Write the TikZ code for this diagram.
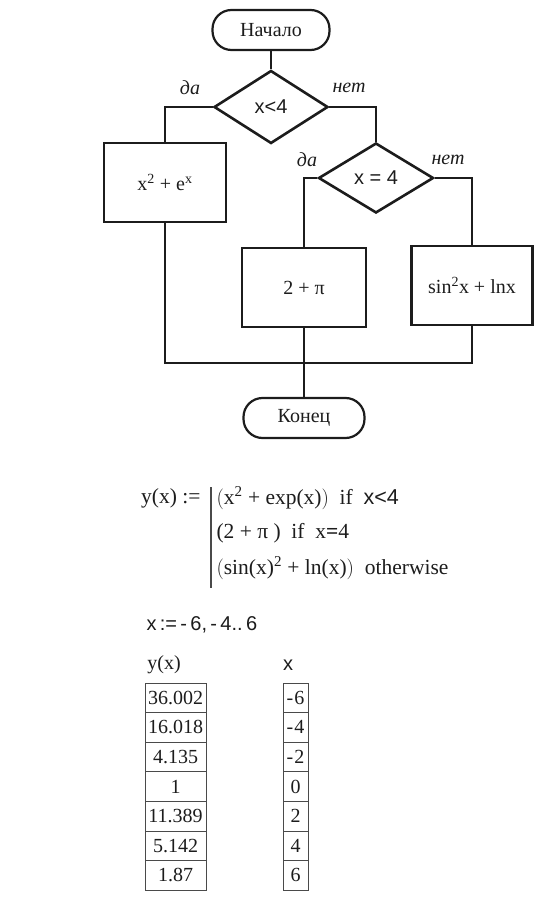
\documentclass[tikz,border=0pt]{standalone}
\usepackage{fontspec}
\setmainfont{Liberation Serif}
\setsansfont{Liberation Sans}
\usetikzlibrary{shapes.geometric}
\usepackage{xcolor}
\definecolor{tinta}{HTML}{1C1C1C}
\definecolor{rejilla}{HTML}{4A4A4A}
\newcommand{\letra}{\fontsize{20}{24}\selectfont}
\newcommand{\formula}{\fontsize{21.5}{26}\selectfont}

\begin{document}
\begin{tikzpicture}[x=1pt,y=-1pt,
    every node/.style={font=\letra,align=center,text=tinta},
    term/.style={draw=tinta,line width=2.2pt,rounded corners=19pt,minimum width=117pt,minimum height=40pt,inner sep=0pt},
    accion/.style={draw=tinta,line width=2.6pt,minimum height=79pt,inner sep=0pt},
    cond/.style={diamond,draw=tinta,line width=2.6pt,inner sep=0pt},
    rama/.style={font=\letra\itshape},
    caso/.style={anchor=west,font=\formula},
    celda/.style={draw=rejilla,line width=0.8pt,minimum height=29.6pt,inner sep=0pt},
    celdaY/.style={celda,minimum width=61pt},
    celdaX/.style={celda,minimum width=25pt},
    linea/.style={draw=tinta,line width=1.3pt}
  ]
    \useasboundingbox (0,0) rectangle (558,909);

    % diagrama de flujo
    \node[term] (inicio) at (271,30) {Начало};
    \node[cond,minimum width=114pt,minimum height=73pt] (cond1) at (271,107) {\textsf{x<4}};
    \node[cond,minimum width=115pt,minimum height=70pt] (cond2) at (376,178) {\textsf{x = 4}};
    \node[accion,minimum width=122pt] (ramaA) at (165,182.5) {x\textsuperscript{2} + e\textsuperscript{x}};
    \node[accion,minimum width=124pt] (ramaB) at (304,287.5) {2 + π};
    \node[accion,minimum width=121pt] (ramaC) at (472,285.5) {sin\textsuperscript{2}x + lnx};
    \node[term,minimum width=121pt] (fin) at (304,418) {Конец};
    \coordinate (union) at (304,363);

    \node[rama] (si1) at (190,88) {да};
    \node[rama] (no1) at (349,88) {нет};
    \node[rama] (si2) at (307,160) {да};
    \node[rama] (no2) at (448,160) {нет};

    \draw[linea] (inicio.south) -- (cond1.north);
    \draw[linea] (cond1.west) -| (ramaA.north);
    \draw[linea] (cond1.east) -| (cond2.north);
    \draw[linea] (cond2.west) -| (ramaB.north);
    \draw[linea] (cond2.east) -| (ramaC.north);
    \draw[linea] (ramaA.south) |- (union) -| (ramaC.south);
    \draw[linea] (ramaB.south) -- (fin.north);

    % funcion por tramos
    \node[anchor=east,font=\formula] (asigna) at (204,498) {y(x) :=};
    \coordinate (barra1) at (211,487);
    \coordinate (barra2) at (211,588);
    \draw[draw=rejilla,line width=2.6pt] (barra1) -- (barra2);
    \node[caso] (caso1) at (213,498) {$\Big($x\textsuperscript{2} + exp(x)$\Big)$\ \ if\ \ \textsf{x<4}};
    \node[caso] (caso2) at (213,533) {(2 + π )\ \ if\ \ x\textbf{=}4};
    \node[caso] (caso3) at (213,568) {$\Big($sin(x)\textsuperscript{2} + ln(x)$\Big)$\ \ otherwise};
    \node[anchor=west,font=\letra\sffamily] (rango) at (143,625) {x\,:=\,-\,6,\,-\,4..\,6};

    % tablas
    \node (encY) at (164,665) {y(x)};
    \node[font=\letra\sffamily] (encX) at (288,665) {x};

    \node[celdaY] (y1) at (175.5,697.8) {36.002};
    \node[celdaY] (y2) at (175.5,727.4) {16.018};
    \node[celdaY] (y3) at (175.5,757.0) {4.135};
    \node[celdaY] (y4) at (175.5,786.6) {1};
    \node[celdaY] (y5) at (175.5,816.2) {11.389};
    \node[celdaY] (y6) at (175.5,845.8) {5.142};
    \node[celdaY] (y7) at (175.5,875.4) {1.87};

    \node[celdaX] (x1) at (295.5,697.8) {-\kern1pt 6};
    \node[celdaX] (x2) at (295.5,727.4) {-\kern1pt 4};
    \node[celdaX] (x3) at (295.5,757.0) {-\kern1pt 2};
    \node[celdaX] (x4) at (295.5,786.6) {0};
    \node[celdaX] (x5) at (295.5,816.2) {2};
    \node[celdaX] (x6) at (295.5,845.8) {4};
    \node[celdaX] (x7) at (295.5,875.4) {6};
  \end{tikzpicture}
\end{document}
